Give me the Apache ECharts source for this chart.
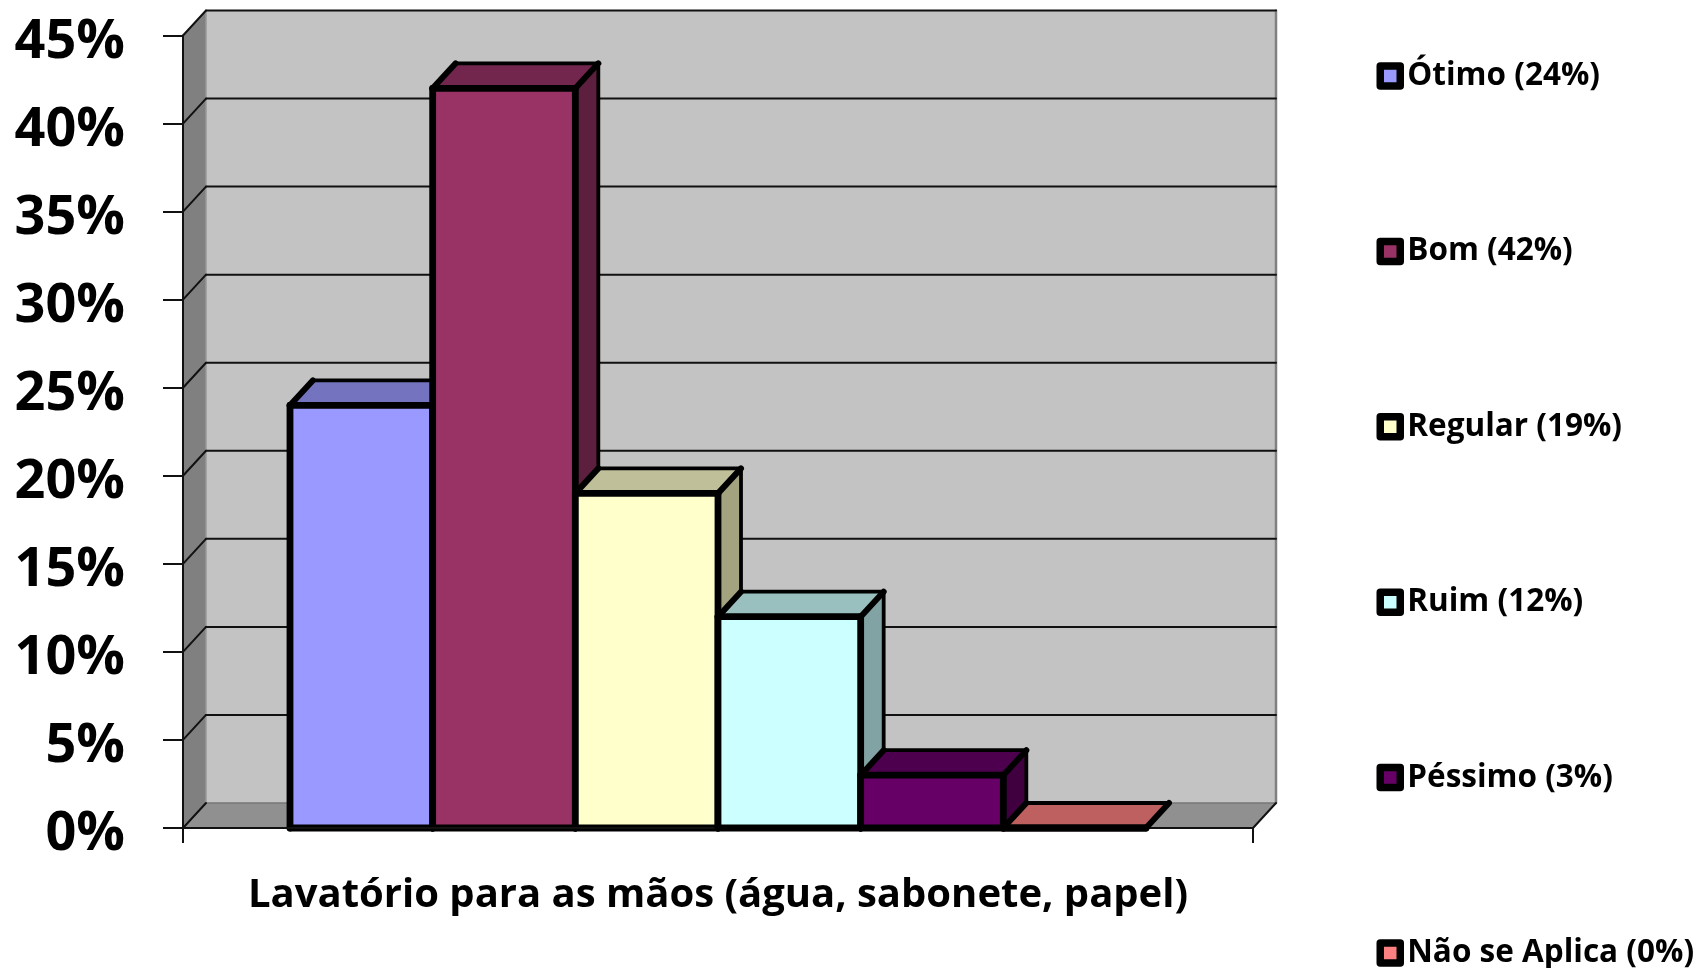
<!DOCTYPE html>
<html>
<head>
<meta charset="utf-8">
<style>html,body{margin:0;padding:0;background:#fff}#c{width:1696px;height:968px}</style>
<script src="https://cdn.jsdelivr.net/npm/echarts@6/dist/echarts.min.js"></script>
</head>
<body>
<div id="c"></div>
<script>
const categories = ['Lavatório para as mãos (água, sabonete, papel)'];
const seriesNames = ['Ótimo (24%)','Bom (42%)','Regular (19%)','Ruim (12%)','Péssimo (3%)','Não se Aplica (0%)'];
const seriesValues = [24,42,19,12,3,0];
const frontColors = ['#9999FF','#993366','#FFFFCC','#CCFFFF','#660066','#FF8080'];
const topColors = ['#7373BF','#73264D','#BFBF99','#99BFBF','#4D004D','#BF6060'];
const sideColors = ['#5C5C99','#5C1F3D','#A3A380','#82A3A3','#400040','#A35252'];
const yTicks = [0,5,10,15,20,25,30,35,40,45];
const DX = 23, DY = -25, CAT_GAP = 0.2;

function poly(pts, fill){
  return {type:'polygon', shape:{points:pts}, style:{fill:fill, stroke:null}};
}
function seg(a,b,color,w){
  return {type:'line', shape:{x1:a[0],y1:a[1],x2:b[0],y2:b[1]},
    style:{stroke:color, lineWidth:w, fill:null, lineCap:'round'}};
}
function renderWalls(params, api){
  const c0 = api.coord([0,0]), band = api.size([1,0])[0];
  const xl = c0[0]-band/2, xr = c0[0]+band/2, yb = c0[1];
  const yt = api.coord([0,yTicks[yTicks.length-1]])[1];
  const kids = [
    poly([[xl+DX,yt+DY],[xr+DX,yt+DY],[xr+DX,yb+DY],[xl+DX,yb+DY]],'#C3C3C3'),
    poly([[xl,yb],[xl,yt],[xl+DX,yt+DY],[xl+DX,yb+DY]],'#808080'),
    poly([[xl,yb],[xr,yb],[xr+DX,yb+DY],[xl+DX,yb+DY]],'#909090'),
    seg([xl+DX,yb+DY],[xr+DX,yb+DY],'#777',1.5),
    seg([xl+DX,yb+DY],[xl+DX,yt+DY],'#999',1.5),
    seg([xr+DX,yt+DY],[xr+DX,yb+DY],'#808080',2.5),
    seg([xr,yb],[xr+DX,yb+DY],'#111',2),
    seg([xl,yb],[xl+DX,yb+DY],'#111',2)
  ];
  yTicks.slice(1).forEach(function(t){
    const y = api.coord([0,t])[1];
    kids.push(seg([xl,y],[xl+DX,y+DY],'#111',2));
    kids.push(seg([xl+DX,y+DY],[xr+DX,y+DY],'#111',2));
  });
  return {type:'group', children:kids};
}
function makeRender(idx){
  return function(params, api){
    const base = api.coord([0,0]), top = api.coord([0,api.value(1)]);
    const band = api.size([1,0])[0], w = band*(1-CAT_GAP)/seriesNames.length;
    const xl = base[0]-band*(1-CAT_GAP)/2 + idx*w, xr = xl+w;
    const yb = base[1], yt = top[1], FRONT = 6.8, DIAG = 6, BACK = 3.8, K = '#000';
    const kids = [
      poly([[xr,yb],[xr,yt],[xr+DX,yt+DY],[xr+DX,yb+DY]],sideColors[idx]),
      poly([[xl,yt],[xr,yt],[xr+DX,yt+DY],[xl+DX,yt+DY]],topColors[idx])
    ];
    if (yb-yt > 0.5) kids.push(poly([[xl,yb],[xr,yb],[xr,yt],[xl,yt]],frontColors[idx]));
    kids.push(seg([xl+DX,yt+DY],[xr+DX,yt+DY],K,BACK));
    kids.push(seg([xr+DX,yt+DY],[xr+DX,yb+DY],K,BACK));
    kids.push(seg([xl,yt],[xl+DX,yt+DY],K,DIAG));
    kids.push(seg([xr,yt],[xr+DX,yt+DY],K,DIAG));
    if (yb-yt > 0.5) {
      kids.push(seg([xr,yb],[xr+DX,yb+DY],K,BACK));
      kids.push(seg([xl,yb],[xl,yt],K,FRONT));
      kids.push(seg([xr,yb],[xr,yt],K,FRONT));
    }
    kids.push(seg([xl,yt],[xr,yt],K,FRONT));
    kids.push(seg([xl,yb],[xr,yb],K,FRONT));
    return {type:'group', children:kids};
  };
}
const series = [{
  type:'custom', name:'wall', silent:true, z:1, data:[[0,0]], renderItem:renderWalls,
  encode:{x:0,y:1}
}];
seriesNames.forEach(function(n,i){
  series.push({type:'custom', name:n, z:3+i, silent:true, coordinateSystem:'cartesian2d',
    itemStyle:{color:frontColors[i]},
    data:[[0,seriesValues[i]]], renderItem:makeRender(i), encode:{x:0,y:1}});
});
const FONT = '"Open Sans"';
const chart = echarts.init(document.getElementById('c'),null,{renderer:'canvas'});
chart.setOption({
  animation:false,
  backgroundColor:'#fff',
  grid:{left:183,right:443,top:35.5,bottom:140,containLabel:false},
  legend:{
    orient:'vertical', left:1371.5, top:55, height:1100, itemWidth:20, itemHeight:20, itemGap:143.4,
    icon:'rect', selectedMode:false, data:seriesNames,
    itemStyle:{borderColor:'#000',borderWidth:7.5,borderJoin:'round'},
    textStyle:{fontFamily:FONT,fontWeight:'bold',fontSize:31.5,color:'#000',padding:[0,0,0,2]}
  },
  xAxis:{type:'category',data:categories,z:5,
    axisLine:{show:true,lineStyle:{color:'#111',width:2}},
    axisTick:{show:true,length:15,lineStyle:{color:'#111',width:2}},
    axisLabel:{fontFamily:FONT,fontWeight:'bold',fontSize:40,color:'#000',margin:48,interval:0}},
  yAxis:{type:'value',min:0,max:45,interval:5,z:5,
    axisLine:{show:true,lineStyle:{color:'#111',width:2}},
    axisTick:{show:true,length:20,lineStyle:{color:'#111',width:2}},
    splitLine:{show:false},
    axisLabel:{margin:58,
      formatter:function(v){return '{a|'+v+'%}';},
      rich:{a:{fontFamily:FONT,fontWeight:'bold',fontSize:54,color:'#000',padding:[14,0,0,0]}}}},
  series:series
});
</script>
</body>
</html>
